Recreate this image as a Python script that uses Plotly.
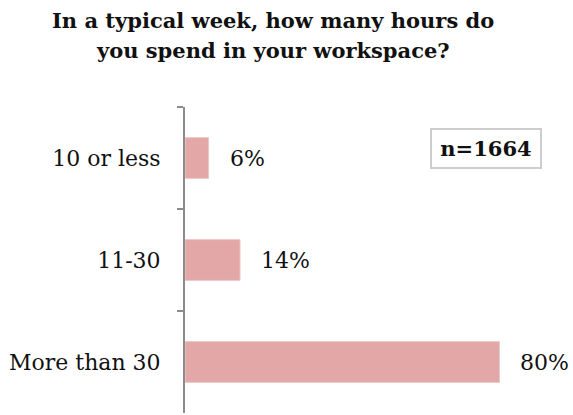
import plotly.graph_objects as go

categories = ["10 or less", "11-30", "More than 30"]
values = [6, 14, 80]
value_labels = ["6%", "14%", "80%"]
title_lines = ["In a typical week, how many hours do", "you spend in your workspace?"]
sample_text = "n=1664"

FONT = "DejaVu Serif"
W, H = 573, 415
L, R, T, B = 185, 0, 107, 2
PW, PH = W - L - R, H - T - B

def px_x(p):
    return (p - L) / PW

def px_y(p):
    return 1 - (p - T) / PH

fig = go.Figure()
fig.add_trace(go.Bar(
    y=categories, x=values, orientation="h",
    marker=dict(color="#E2A7A6", line=dict(color="#EEC8C7", width=1)),
    width=0.4, hoverinfo="skip",
))

for c, v, t in zip(categories, values, value_labels):
    fig.add_annotation(x=v, y=c, xref="x", yref="y", text=t, showarrow=False,
                       xanchor="left", yanchor="middle", xshift=19,
                       font=dict(family=FONT, size=22, color="#111111"))

fig.add_annotation(x=px_x(486), y=px_y(148.5), xref="paper", yref="paper",
                   text="<b>" + sample_text + "</b>",
                   showarrow=False, xanchor="center", yanchor="middle",
                   width=106, height=35, align="center", valign="middle",
                   bordercolor="#CDCDCD", borderwidth=2, borderpad=1, bgcolor="white",
                   font=dict(family=FONT, size=21, color="#111111"))

for i, line in enumerate(title_lines):
    fig.add_annotation(x=px_x(273), y=px_y(6 + 30 * i), xref="paper", yref="paper",
                       text="<b>" + line + "</b>", showarrow=False,
                       xanchor="center", yanchor="top", align="center",
                       font=dict(family=FONT, size=21, color="#111111"))

fig.update_layout(
    width=W, height=H,
    margin=dict(l=L, r=R, t=T, b=B, autoexpand=False),
    paper_bgcolor="white", plot_bgcolor="white",
    showlegend=False,
    xaxis=dict(range=[0, 98.7], visible=False, fixedrange=True),
    yaxis=dict(autorange="reversed", showline=True, linecolor="#8C8C8C", linewidth=2,
               ticks="outside", tickson="boundaries", ticklen=6, tickcolor="#8C8C8C", tickwidth=2,
               ticklabelstandoff=18, showgrid=False, zeroline=False, automargin=False,
               fixedrange=True,
               tickfont=dict(family=FONT, size=22, color="#111111")),
)

fig.write_html("out.html", config={"displayModeBar": False, "staticPlot": True},
               post_script="document.body.style.margin='0';")
